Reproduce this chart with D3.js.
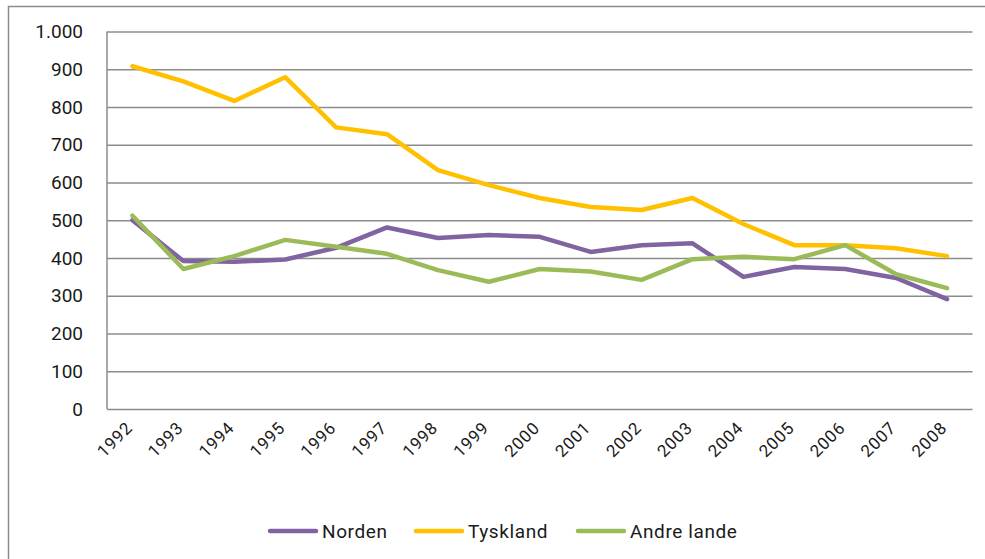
<!DOCTYPE html>
<html>
<head>
<meta charset="utf-8">
<script src="https://cdn.jsdelivr.net/npm/d3@7"></script>
<style>
  body { margin: 0; background: #fff; }
  text { font-family: "Roboto", "Liberation Sans", sans-serif; fill: #1a1a1a; }
</style>
</head>
<body>
<svg width="985" height="559"></svg>
<script>
  // Data
  const years = ['1992', '1993', '1994', '1995', '1996', '1997', '1998', '1999', '2000',
    '2001', '2002', '2003', '2004', '2005', '2006', '2007', '2008'];
  const norden = [500, 392, 390, 396, 427, 481, 453, 461, 456, 416, 434, 439, 350, 376, 371, 347, 291];
  const tyskland = [908, 868, 816, 879, 746, 728, 633, 593, 559, 535, 527, 559, 490, 434, 434, 426, 405];
  const andreLande = [512, 371, 405, 448, 430, 411, 368, 337, 371, 364, 342, 397, 403, 397, 434, 357, 320];
  const yTicks = [0, 100, 200, 300, 400, 500, 600, 700, 800, 900, 1000];
  const seriesNames = ['Norden', 'Tyskland', 'Andre lande'];
  const seriesColors = ['#8064A2', '#FFC000', '#9BBB59'];

  const series = [norden, tyskland, andreLande].map((values, i) => ({
    name: seriesNames[i],
    color: seriesColors[i],
    values: values
  }));

  const svg = d3.select('svg');

  // outer frame (only top and left edges show in the picture)
  svg.append('path')
    .attr('d', 'M8.5,600 V6.5 H990')
    .attr('fill', 'none')
    .attr('stroke', '#8c8c8c')
    .attr('stroke-width', 1.5);

  const margin = { top: 31.5, left: 107, right: 972.5, bottom: 409 };

  const xScale = d3.scalePoint()
    .domain(years)
    .range([margin.left, margin.right])
    .padding(0.5);

  const yScale = d3.scaleLinear()
    .domain([0, 1000])
    .range([margin.bottom, margin.top]);

  const fmt = d3.formatLocale({ decimal: ',', thousands: '.', grouping: [3], currency: ['', ''] }).format(',');

  // horizontal gridlines + y labels
  const yAxis = d3.axisLeft(yScale)
    .tickValues(yTicks)
    .tickSize(-(margin.right - margin.left))
    .tickPadding(24)
    .tickFormat(fmt);

  const yAxisG = svg.append('g')
    .attr('transform', `translate(${margin.left},0)`)
    .call(yAxis);
  yAxisG.select('.domain').remove();
  yAxisG.selectAll('.tick line')
    .attr('stroke', '#8c8c8c')
    .attr('stroke-width', 1.5);
  yAxisG.selectAll('.tick text')
    .attr('font-size', 19)
    .attr('fill', '#1a1a1a');

  // vertical axis line
  svg.append('line')
    .attr('x1', margin.left).attr('x2', margin.left)
    .attr('y1', margin.top).attr('y2', margin.bottom)
    .attr('stroke', '#8c8c8c')
    .attr('stroke-width', 1.5);

  // x labels, rotated
  svg.append('g')
    .selectAll('text')
    .data(years)
    .enter().append('text')
      .attr('transform', d => `translate(${xScale(d) + 1},${429}) rotate(-45)`)
      .attr('text-anchor', 'end')
      .attr('font-size', 17)
      .attr('letter-spacing', 0.8)
      .text(d => d);

  // lines
  const line = d3.line()
    .x((d, i) => xScale(years[i]))
    .y(d => yScale(d));

  svg.append('g')
    .selectAll('path')
    .data(series)
    .enter().append('path')
      .attr('d', d => line(d.values))
      .attr('fill', 'none')
      .attr('stroke', d => d.color)
      .attr('stroke-width', 4.5)
      .attr('stroke-linejoin', 'round')
      .attr('stroke-linecap', 'round');

  // legend
  const legendX = [270, 416, 578];
  const legend = svg.append('g')
    .selectAll('g')
    .data(series)
    .enter().append('g')
      .attr('transform', (d, i) => `translate(${legendX[i]},531)`);
  legend.append('line')
    .attr('x1', 0).attr('x2', 46)
    .attr('stroke', d => d.color)
    .attr('stroke-width', 4.5)
    .attr('stroke-linecap', 'round');
  legend.append('text')
    .attr('x', 52)
    .attr('dy', '0.35em')
    .attr('font-size', 19)
    .attr('letter-spacing', 0.6)
    .text(d => d.name);
</script>
</body>
</html>
